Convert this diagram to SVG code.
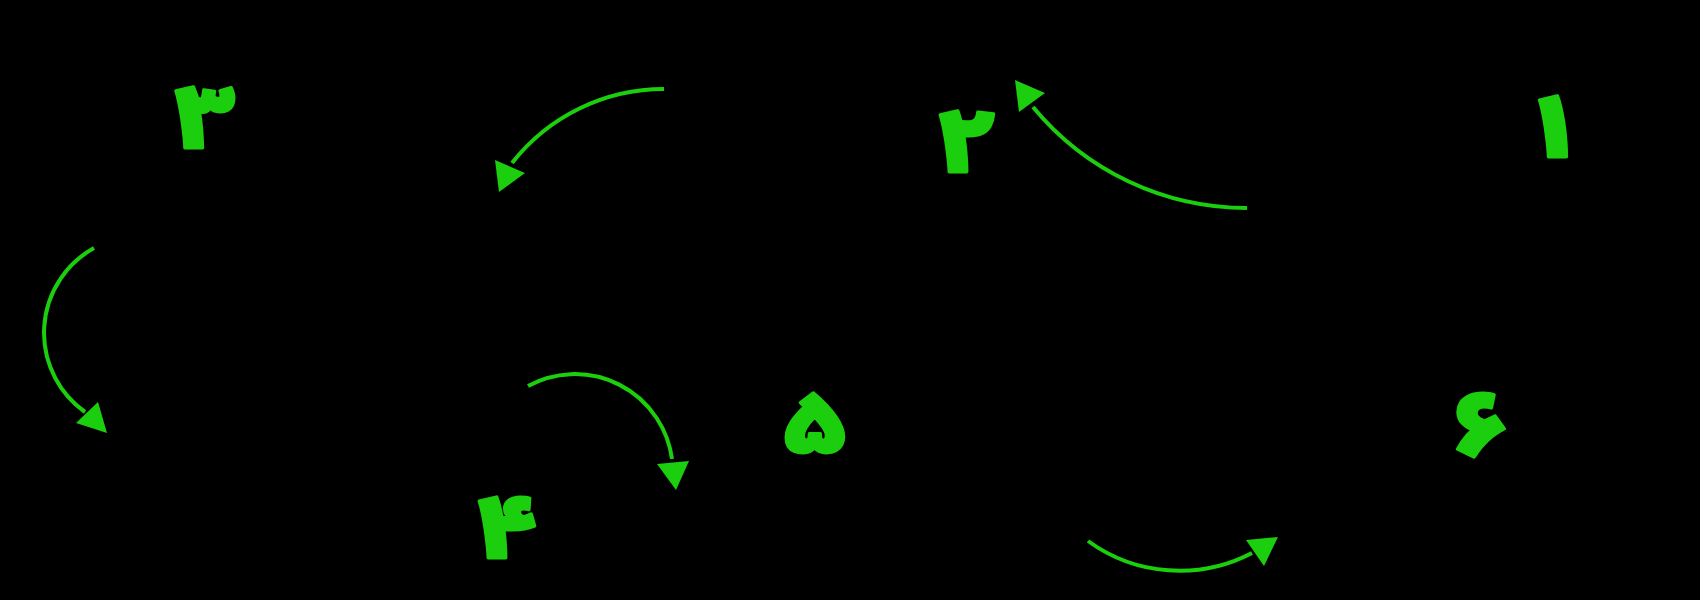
<svg xmlns="http://www.w3.org/2000/svg" width="1700" height="600" viewBox="0 0 1700 600">
<style>
.num{font-family:"Noto Sans Arabic","DejaVu Sans",sans-serif;font-weight:900;font-size:88px;fill:#1ccf0e;stroke:#1ccf0e;stroke-width:3;stroke-linejoin:round;text-anchor:middle}
.arc{fill:none;stroke:#1ccf0e;stroke-width:4}
.head{fill:#1ccf0e}
</style>
<rect width="1700" height="600" fill="#000"/>
<g id="n3" transform="translate(205,148) scale(1.15,1)"><text class="num" x="0" y="0">۳</text></g>
<g id="n2" transform="translate(967,172) scale(1.15,1)"><text class="num" x="0" y="0">۲</text></g>
<g id="n1" transform="translate(1553,157) scale(1.15,1)"><text class="num" x="0" y="0">۱</text></g>
<g id="n4" transform="translate(507,558) scale(1.15,1)"><text class="num" x="0" y="0">۴</text></g>
<g id="n5" transform="translate(815,453) scale(1.15,1)"><text class="num" x="0" y="0">۵</text></g>
<g id="n6" transform="translate(1481,454) scale(1.15,1)"><text class="num" x="0" y="0">۶</text></g>
<g id="connectors">
<path class="arc" d="M94,248 A97,97 0 0 0 85,412"/>
<polygon class="head" points="98,402 76,423 107,433"/>
<path class="arc" d="M664,89 A193,193 0 0 0 512,163"/>
<polygon class="head" points="495,160 525,173 499,192"/>
<path class="arc" d="M1247,208 A277,277 0 0 1 1033,107"/>
<polygon class="head" points="1015,80 1045,93 1019,112"/>
<path class="arc" d="M528,386 A98,98 0 0 1 672,459"/>
<polygon class="head" points="657,464 689,461 676,490"/>
<path class="arc" d="M1088,541 A156,156 0 0 0 1252,553"/>
<polygon class="head" points="1246,540 1278,537 1264,566"/>
</g>
</svg>
